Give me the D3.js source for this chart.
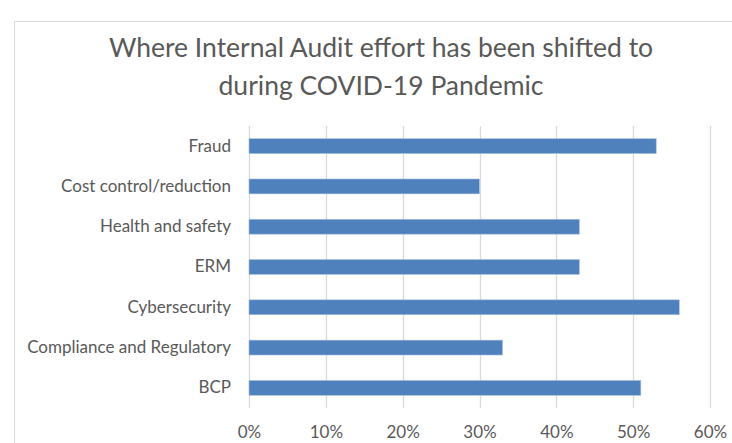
<!DOCTYPE html>
<html>
<head>
<meta charset="utf-8">
<script src="https://cdn.jsdelivr.net/npm/d3@7"></script>
<style>
  html, body { margin: 0; padding: 0; background: #fff; }
  svg { display: block; font-family: Lato, "Open Sans", sans-serif; }
</style>
</head>
<body>
<svg width="732" height="443"></svg>
<script>
// categories top to bottom, values as fractions
const categories = ['Fraud', 'Cost control/reduction', 'Health and safety', 'ERM ', 'Cybersecurity', 'Compliance and Regulatory', 'BCP'];
const values = [0.53, 0.30, 0.43, 0.43, 0.56, 0.33, 0.51];
const ticks = [0, 0.1, 0.2, 0.3, 0.4, 0.5, 0.6];
const titleLines = ['Where Internal Audit effort has been shifted to', 'during COVID-19 Pandemic'];

const svg = d3.select('svg');
const margin = { left: 249, right: 22, top: 126, bottom: 35 };
const width = +svg.attr('width');
const height = +svg.attr('height');
const innerW = width - margin.left - margin.right;
const innerH = height - margin.top - margin.bottom;

// chart frame
svg.append('rect')
  .attr('x', 14.5).attr('y', 21.5)
  .attr('width', 740).attr('height', 460)
  .attr('fill', '#fff').attr('stroke', '#d9d9d9');

const x = d3.scaleLinear().domain([0, 0.6]).range([0, innerW]);
const y = d3.scaleBand().domain(categories).range([0, innerH]).paddingInner(0.63).paddingOuter(0.315);

const g = svg.append('g').attr('transform', `translate(${margin.left},${margin.top})`);

// gridlines
g.append('g')
  .selectAll('line')
  .data(ticks)
  .join('line')
  .attr('x1', d => Math.round(x(d)) + 0.5)
  .attr('x2', d => Math.round(x(d)) + 0.5)
  .attr('y1', 0).attr('y2', innerH)
  .attr('stroke', '#d9d9d9').attr('stroke-width', 1.3);

// bars
g.append('g')
  .selectAll('rect')
  .data(categories.map((c, i) => ({ c, v: values[i] })))
  .join('rect')
  .attr('x', 0)
  .attr('y', d => y(d.c))
  .attr('width', d => x(d.v))
  .attr('height', y.bandwidth())
  .attr('fill', '#4f81bd')
  .attr('stroke', '#a9c1de').attr('stroke-width', 0.6);

// x axis
const xAxis = g.append('g')
  .attr('transform', `translate(0,${innerH})`)
  .call(d3.axisBottom(x).tickValues(ticks).tickFormat(d3.format('.0%')).tickSize(0).tickPadding(18));
xAxis.select('.domain').remove();
xAxis.selectAll('text').attr('fill', '#595959').style('font-size', '17px').style('font-family', 'Lato, sans-serif');

// y axis
const yAxis = g.append('g')
  .call(d3.axisLeft(y).tickSize(0).tickPadding(18));
yAxis.select('.domain').remove();
yAxis.selectAll('text').attr('fill', '#595959').style('font-size', '17px').style('font-family', 'Lato, sans-serif');

// title
svg.append('g')
  .selectAll('text')
  .data(titleLines)
  .join('text')
  .attr('x', 381)
  .attr('y', (d, i) => 57 + i * 38)
  .attr('text-anchor', 'middle')
  .attr('fill', '#595959')
  .style('font-size', '26.5px')
  .text(d => d);
</script>
</body>
</html>
